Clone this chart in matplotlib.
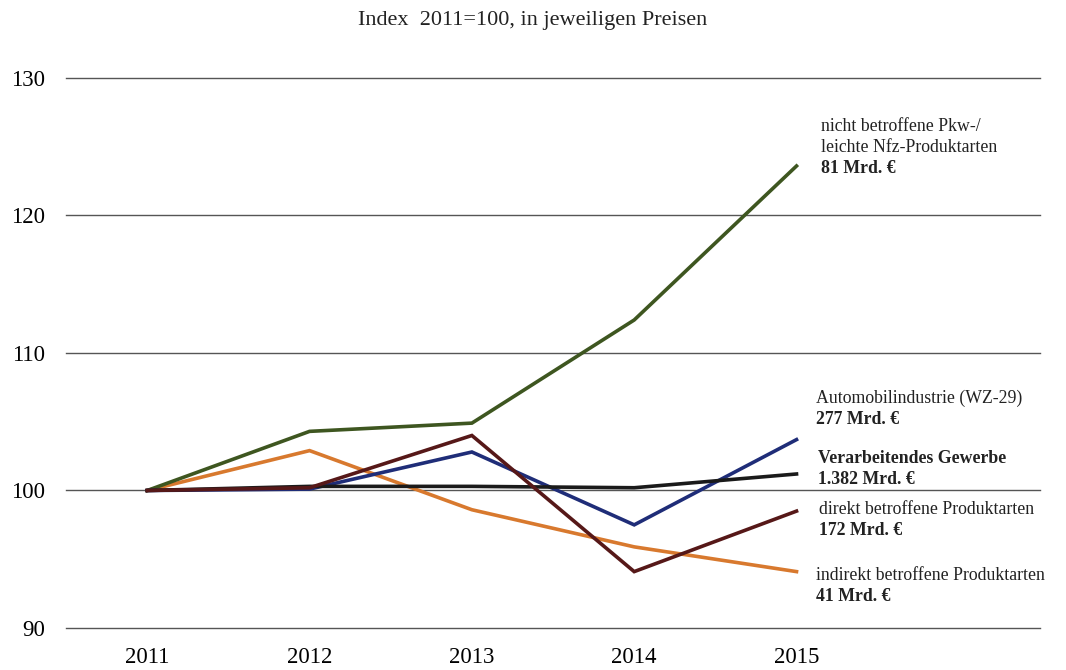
import matplotlib.pyplot as plt

plt.rcParams["font.family"] = ["Liberation Serif", "DejaVu Serif"]

years = [2011, 2012, 2013, 2014, 2015]

nicht_betroffen = [100, 104.3, 104.9, 112.4, 123.6]
automobil = [100, 100.1, 102.8, 97.5, 103.7]
verarbeitend = [100, 100.3, 100.3, 100.2, 101.2]
direkt = [100, 100.2, 104.0, 94.1, 98.5]
indirekt = [100, 102.9, 98.6, 95.9, 94.1]

y_ticks = [90, 100, 110, 120, 130]

# series: values, colour, label lines (text, bold), x, y of first line
series = [
    (indirekt, "#d8792e",
     [("indirekt betroffene Produktarten", False), ("41 Mrd. €", True)], 2015.12, 93.8),
    (nicht_betroffen, "#3e5620",
     [("nicht betroffene Pkw-/", False), ("leichte Nfz-Produktarten", False),
      ("81 Mrd. €", True)], 2015.15, 126.5),
    (automobil, "#1f2d78",
     [("Automobilindustrie (WZ-29)", False), ("277 Mrd. €", True)], 2015.12, 106.7),
    (verarbeitend, "#1a1a1a",
     [("Verarbeitendes Gewerbe", True), ("1.382 Mrd. €", True)], 2015.13, 102.3),
    (direkt, "#561818",
     [("direkt betroffene Produktarten", False), ("172 Mrd. €", True)], 2015.14, 98.65),
]

fig = plt.figure(figsize=(10.66, 6.7), dpi=100)
ax = fig.add_axes([0.062, 0.0627, 0.9136, 0.8209])

for yv in y_ticks:
    ax.axhline(yv, color="#555555", lw=1.0, zorder=1, clip_on=False)

for values, color, lines, tx, ty in series:
    ax.plot(years, values, color=color, lw=2.6, zorder=3, solid_joinstyle="miter")
    for i, (txt, bold) in enumerate(lines):
        ax.text(tx, ty - i * 1.53, txt, fontsize=12.8, va="center", ha="left",
                fontweight="bold" if bold else "normal", color="#222222")

ax.set_xlim(2010.5, 2016.5)
ax.set_ylim(90, 130)
ax.set_xticks(years)
ax.set_xticklabels([str(y) for y in years], fontsize=16.5)
ax.set_yticks(y_ticks)
ax.set_yticklabels([str(y) for y in y_ticks], fontsize=16.5)
ax.tick_params(length=0)
ax.tick_params(axis="x", pad=14)
ax.tick_params(axis="y", pad=15)
for s in ax.spines.values():
    s.set_visible(False)

fig.text(0.5, 0.97, "Index  2011=100, in jeweiligen Preisen", ha="center",
         va="center", fontsize=16, color="#222222")

fig.savefig("out.png", dpi=100)
